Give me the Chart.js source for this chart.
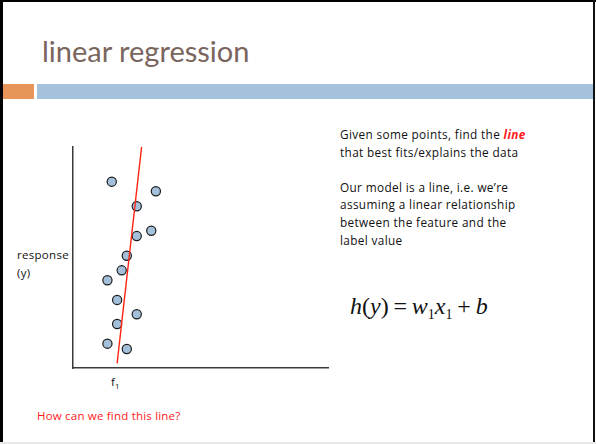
<!DOCTYPE html>
<html>
<head>
<meta charset="utf-8">
<script src="https://cdn.jsdelivr.net/npm/chart.js@4.4.1/dist/chart.umd.min.js"></script>
<style>
  html, body { margin: 0; padding: 0; background: #fff; }
  body { width: 596px; height: 444px; position: relative; overflow: hidden; font-family: "Open Sans", "Lato", sans-serif; }
  .abs { position: absolute; white-space: nowrap; }
  .edge { position: absolute; }
  #title { left: 42px; top: 33px; font-family: "Lato", sans-serif; font-size: 29px; color: #7a655d; }
  #notes { left: 340px; top: 126px; font-size: 11.8px; line-height: 17.6px; color: #111; letter-spacing: 0.35px; }
  #notes em { color: #ff1a1a; font-weight: bold; }
  #eq { left: 350px; top: 293px; font-family: "Liberation Serif", "DejaVu Serif", serif; font-style: italic; font-size: 24px; color: #111; }
  #eq sub { font-style: normal; font-size: 14px; vertical-align: -5px; }
  #eq .op { font-style: normal; }
  #ylab { left: 17px; top: 246px; font-size: 11.5px; line-height: 18px; color: #111; letter-spacing: 0.3px; }
  #xlab { left: 111px; top: 374px; font-size: 11.5px; color: #111; }
  #xlab sub { font-size: 8px; }
  #question { left: 37px; top: 408px; font-size: 11.5px; color: #ff1a1a; letter-spacing: 0.2px; }
  #plot { position: absolute; left: 63px; top: 137px; width: 275px; height: 241px; }
</style>
</head>
<body>
<div class="edge" style="left:0;top:0;width:3px;height:444px;background:#000"></div>
<div class="edge" style="left:0;top:0;width:596px;height:2px;background:#000"></div>
<div class="edge" style="left:593px;top:0;width:2px;height:444px;background:#111"></div>
<div class="edge" style="left:0;top:442px;width:596px;height:2px;background:#e8e8e8"></div>
<div class="edge" style="left:3px;top:84px;width:31px;height:15px;background:#e8955a"></div>
<div class="edge" style="left:37px;top:84px;width:556px;height:15px;background:#a5c2dc"></div>

<div id="title" class="abs">linear regression</div>

<div id="notes" class="abs">
  Given some points, find the <em>line</em><br>
  that best fits/explains the data<br>
  <br>
  Our model is a line, i.e. we’re<br>
  assuming a linear relationship<br>
  between the feature and the<br>
  label value
</div>

<div id="eq" class="abs">h<span class="op">(</span>y<span class="op">)&thinsp;=&thinsp;</span>w<sub>1</sub>x<sub>1</sub><span class="op">&thinsp;+&thinsp;</span>b</div>

<div id="ylab" class="abs">response<br>(y)</div>
<div id="xlab" class="abs">f<sub>1</sub></div>
<div id="question" class="abs">How can we find this line?</div>

<div id="plot"><canvas id="regression"></canvas></div>

<script>
// feature values and responses for the sample points
const featureX = [15.2, 32.5, 25.0, 30.7, 25.0, 21.1, 19.1, 13.5, 17.3, 25.0, 17.3, 13.5, 21.1];
const responseY = [84.3, 80.0, 73.2, 62.1, 59.7, 50.8, 44.2, 39.7, 30.8, 24.3, 19.9, 11.0, 8.6];

// end points of the fitted line
const fitX = [17.3, 26.9];
const fitY = [2.1, 100.0];

const points = featureX.map((x, i) => ({ x: x, y: responseY[i] }));
const fitLine = fitX.map((x, i) => ({ x: x, y: fitY[i] }));

const axisStyle = {
    min: 0,
    max: 100,
    ticks: { display: false },
    grid: { display: true, drawOnChartArea: false, drawTicks: false },
    border: { display: true, color: '#3a3a3a', width: 1.5 }
};

new Chart(document.getElementById('regression'), {
    type: 'scatter',
    data: {
        datasets: [{
            label: 'fit',
            type: 'line',
            data: fitLine,
            borderColor: '#ff2412',
            borderWidth: 1.4,
            pointRadius: 0,
            fill: false
        }, {
            label: 'points',
            data: points,
            backgroundColor: '#a4bfd9',
            borderColor: '#1c1c1c',
            borderWidth: 1.2,
            pointRadius: 4.6
        }]
    },
    options: {
        responsive: true,
        maintainAspectRatio: false,
        animation: false,
        layout: { padding: { left: 10, top: 10, right: 10, bottom: 10 } },
        plugins: { legend: { display: false }, tooltip: { enabled: false } },
        scales: {
            x: { type: 'linear', position: 'bottom', ...axisStyle },
            y: { type: 'linear', position: 'left', ...axisStyle }
        }
    }
});
</script>
</body>
</html>
